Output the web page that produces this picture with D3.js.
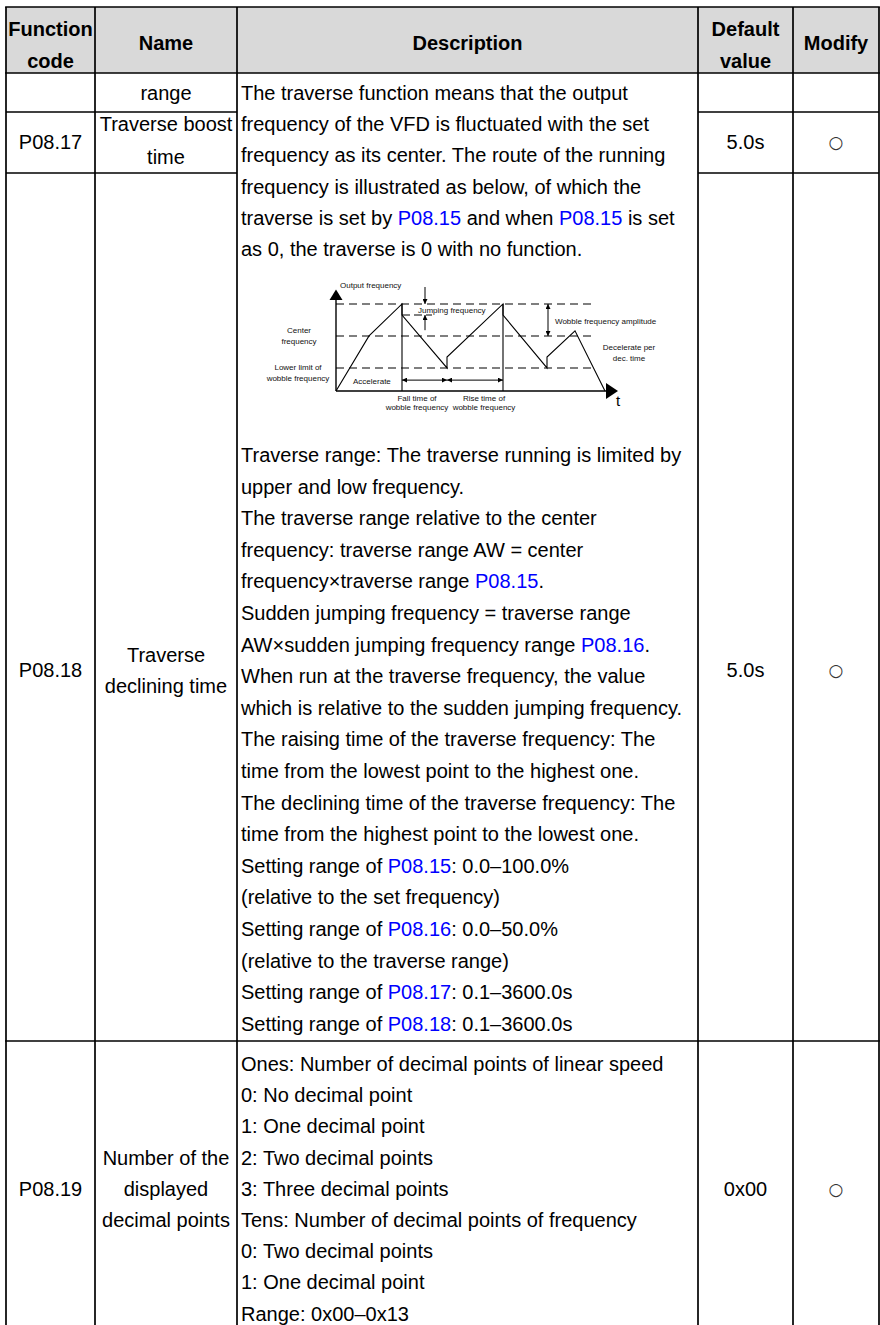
<!DOCTYPE html>
<html><head><meta charset="utf-8">
<script src="https://cdn.jsdelivr.net/npm/d3@7"></script>
<style>
body{margin:0;background:#fff}
svg{display:block}
text{font-family:"Liberation Sans",Arial,sans-serif;fill:#000}
</style>
</head><body><div id="chart"></div>
<script>
// ---------- data ----------
const headerLines = [["Function","code"],["Name"],["Description"],["Default","value"],["Modify"]];
const codes = ["", "P08.17", "P08.18", "P08.19"];
const names = [["range"],["Traverse boost","time"],["Traverse","declining time"],["Number of the","displayed","decimal points"]];
const defaults = ["", "5.0s", "5.0s", "0x00"];
const modifies = ["", "○", "○", "○"];
const descIntro = [
  "The traverse function means that the output",
  "frequency of the VFD is fluctuated with the set",
  "frequency as its center. The route of the running",
  "frequency is illustrated as below, of which the",
  "traverse is set by P08.15 and when P08.15 is set",
  "as 0, the traverse is 0 with no function."
];
const descAfter = [
  "Traverse range: The traverse running is limited by",
  "upper and low frequency.",
  "The traverse range relative to the center",
  "frequency: traverse range AW = center",
  "frequency×traverse range P08.15.",
  "Sudden jumping frequency = traverse range",
  "AW×sudden jumping frequency range P08.16.",
  "When run at the traverse frequency, the value",
  "which is relative to the sudden jumping frequency.",
  "The raising time of the traverse frequency: The",
  "time from the lowest point to the highest one.",
  "The declining time of the traverse frequency: The",
  "time from the highest point to the lowest one.",
  "Setting range of P08.15: 0.0–100.0%",
  "(relative to the set frequency)",
  "Setting range of P08.16: 0.0–50.0%",
  "(relative to the traverse range)",
  "Setting range of P08.17: 0.1–3600.0s",
  "Setting range of P08.18: 0.1–3600.0s"
];
const descP0819 = [
  "Ones: Number of decimal points of linear speed",
  "0: No decimal point",
  "1: One decimal point",
  "2: Two decimal points",
  "3: Three decimal points",
  "Tens: Number of decimal points of frequency",
  "0: Two decimal points",
  "1: One decimal point",
  "Range: 0x00–0x13"
];
// diagram data (time units, frequency units)
const waveT = [0, 33, 66, 66, 111, 111, 167, 167, 211, 211, 239, 269];
const waveF = [0, 1.72, 2.72, 2.375, 0.72, 1.06, 2.72, 2.375, 0.72, 1.06, 1.88, 0];
const levelNames = ["top", "center", "lower"];
const levelValues = [2.72, 1.72, 0.72];
const jumpValue = 2.375;
const markerTimes = [66, 167];

// ---------- layout ----------
const W = 880, H = 1325;
const colEdges = [6, 95, 237, 698, 793, 879];
const FS = 20;
const svg = d3.select("#chart").append("svg").attr("width", W).attr("height", H);

svg.append("rect").attr("x", colEdges[0]).attr("y", 7).attr("width", colEdges[5]-colEdges[0]).attr("height", 66).attr("fill", "#d9d9d9");

function addText(x, y, str, opts={}) {
  const t = svg.append("text").attr("x", x).attr("y", y).attr("dy", "0.35em")
    .attr("font-size", opts.size || FS).attr("text-anchor", opts.anchor || "start");
  if (opts.bold) t.attr("font-weight", "bold");
  if (opts.links) {
    str.split(/(P08\.\d\d)/).forEach(seg => {
      if (!seg) return;
      const ts = t.append("tspan").text(seg);
      if (/^P08\.\d\d$/.test(seg)) ts.style("fill", "#0000ff");
    });
  } else t.text(str);
  return t;
}
const colCenter = i => (colEdges[i] + colEdges[i+1]) / 2;

headerLines.forEach((lines, i) => {
  const ys = lines.length === 2 ? [29, 61] : [43];
  lines.forEach((l, j) => addText(colCenter(i), ys[j], l, {bold: true, anchor: "middle"}));
});

const rowCenters = [93, 142, 670, 1189];
const nameLineY = [[93], [124, 157], [655, 686], [1158, 1189, 1220]];
codes.forEach((c, i) => { if (c) addText(colCenter(0), rowCenters[i], c, {anchor: "middle"}); });
names.forEach((ls, i) => ls.forEach((l, j) => addText(colCenter(1), nameLineY[i][j], l, {anchor: "middle"})));
defaults.forEach((d, i) => { if (d) addText(colCenter(3), rowCenters[i], d, {anchor: "middle"}); });
modifies.forEach((m, i) => {
  if (m) addText(colCenter(4), rowCenters[i], m, {anchor: "middle", size: 17}).style("font-family", "DejaVu Sans").style("fill", "#333");
});

const dx = 241;
descIntro.forEach((l, i) => addText(dx, 93 + i*31.2, l, {links: true}));
descAfter.forEach((l, i) => addText(dx, 455 + i*31.6, l, {links: true}));
descP0819.forEach((l, i) => addText(dx, 1064 + i*31.2, l, {links: true}));

const g = svg.append("g").attr("stroke", "#000").attr("stroke-width", 1.7);
colEdges.forEach(x => g.append("line").attr("x1", x).attr("x2", x).attr("y1", 7).attr("y2", H));
[7, 73, 1041].forEach(y => g.append("line").attr("x1", colEdges[0]-0.85).attr("x2", colEdges[5]+0.85).attr("y1", y).attr("y2", y));
[112, 173].forEach(y => {
  g.append("line").attr("x1", colEdges[0]).attr("x2", colEdges[2]).attr("y1", y).attr("y2", y);
  g.append("line").attr("x1", colEdges[3]).attr("x2", colEdges[5]).attr("y1", y).attr("y2", y);
});

// ---------- diagram ----------
const x = d3.scaleLinear().domain([0, 282]).range([336, 618]);
const y = d3.scaleLinear().domain([0, 1]).range([391, 359]);
const dg = svg.append("g");
const defs = svg.append("defs");
defs.append("marker").attr("id", "ah").attr("viewBox", "0 0 10 10").attr("refX", 10).attr("refY", 5)
  .attr("markerWidth", 6).attr("markerHeight", 5).attr("markerUnits", "userSpaceOnUse").attr("orient", "auto-start-reverse")
  .append("path").attr("d", "M0,0 L10,5 L0,10 Z").attr("fill", "#000");

levelValues.forEach((v, i) => dg.append("line").attr("class", "lvl-" + levelNames[i])
  .attr("x1", x(0)).attr("x2", x(255)).attr("y1", y(v)).attr("y2", y(v))
  .attr("stroke", "#000").attr("stroke-width", 1.1).attr("stroke-dasharray", "8,5"));
dg.append("line").attr("x1", x(66)).attr("x2", x(96)).attr("y1", y(jumpValue)).attr("y2", y(jumpValue))
  .attr("stroke", "#000").attr("stroke-width", 1).attr("stroke-dasharray", "8,4");

dg.append("line").attr("x1", x(0)).attr("x2", x(0)).attr("y1", y(0)).attr("y2", y(2.9)).attr("stroke", "#000").attr("stroke-width", 1.4);
dg.append("line").attr("x1", x(0)).attr("x2", x(272)).attr("y1", y(0)).attr("y2", y(0)).attr("stroke", "#000").attr("stroke-width", 1.4);
dg.append("path").attr("d", `M${x(0)-6.5},${y(2.84)} L${x(0)+6.5},${y(2.84)} L${x(0)},${y(3.17)} Z`).attr("fill", "#000");
dg.append("path").attr("d", `M${x(270)},${y(0)-8} L${x(270)},${y(0)+8} L${x(282)},${y(0)} Z`).attr("fill", "#000");

markerTimes.forEach(t => dg.append("line").attr("x1", x(t)).attr("x2", x(t)).attr("y1", y(levelValues[0])).attr("y2", y(0))
  .attr("stroke", "#000").attr("stroke-width", 1.1));

const line = d3.line().x(d => x(d[0])).y(d => y(d[1]));
dg.append("path").attr("d", line(waveT.map((t, i) => [t, waveF[i]])))
  .attr("fill", "none").attr("stroke", "#000").attr("stroke-width", 1.1);

function arrow(x1, y1, x2, y2, both) {
  const l = dg.append("line").attr("x1", x1).attr("y1", y1).attr("x2", x2).attr("y2", y2)
    .attr("stroke", "#000").attr("stroke-width", 1).attr("marker-end", "url(#ah)");
  if (both) l.attr("marker-start", "url(#ah)");
}
arrow(x(89), y(3.25), x(89), y(levelValues[0]), false);
arrow(x(89), y(1.9), x(89), y(jumpValue), false);
arrow(x(212), y(levelValues[0]), x(212), y(levelValues[1]), true);
arrow(x(66), y(0.34), x(111), y(0.34), true);
arrow(x(111), y(0.34), x(167), y(0.34), true);

function lab(xp, yp, s, anchor, size) {
  dg.append("text").attr("x", xp).attr("y", yp).attr("dy", "0.35em").attr("font-size", size || 8)
    .attr("text-anchor", anchor || "start").style("fill", "#111").text(s);
}
lab(340, 285, "Output frequency");
lab(418, 310, "Jumping frequency");
lab(299, 330, "Center", "middle"); lab(299, 341, "frequency", "middle");
lab(298, 367, "Lower limit of", "middle"); lab(298, 378, "wobble frequency", "middle");
lab(353, 381, "Accelerate");
lab(417, 398, "Fall time of", "middle"); lab(417, 407, "wobble frequency", "middle");
lab(484, 398, "Rise time of", "middle"); lab(484, 407, "wobble frequency", "middle");
lab(555, 321, "Wobble frequency amplitude");
lab(629, 347, "Decelerate per", "middle"); lab(629, 358, "dec. time", "middle");
dg.append("text").attr("x", 616).attr("y", 406).attr("font-size", 15).text("t");
</script>
</body></html>
